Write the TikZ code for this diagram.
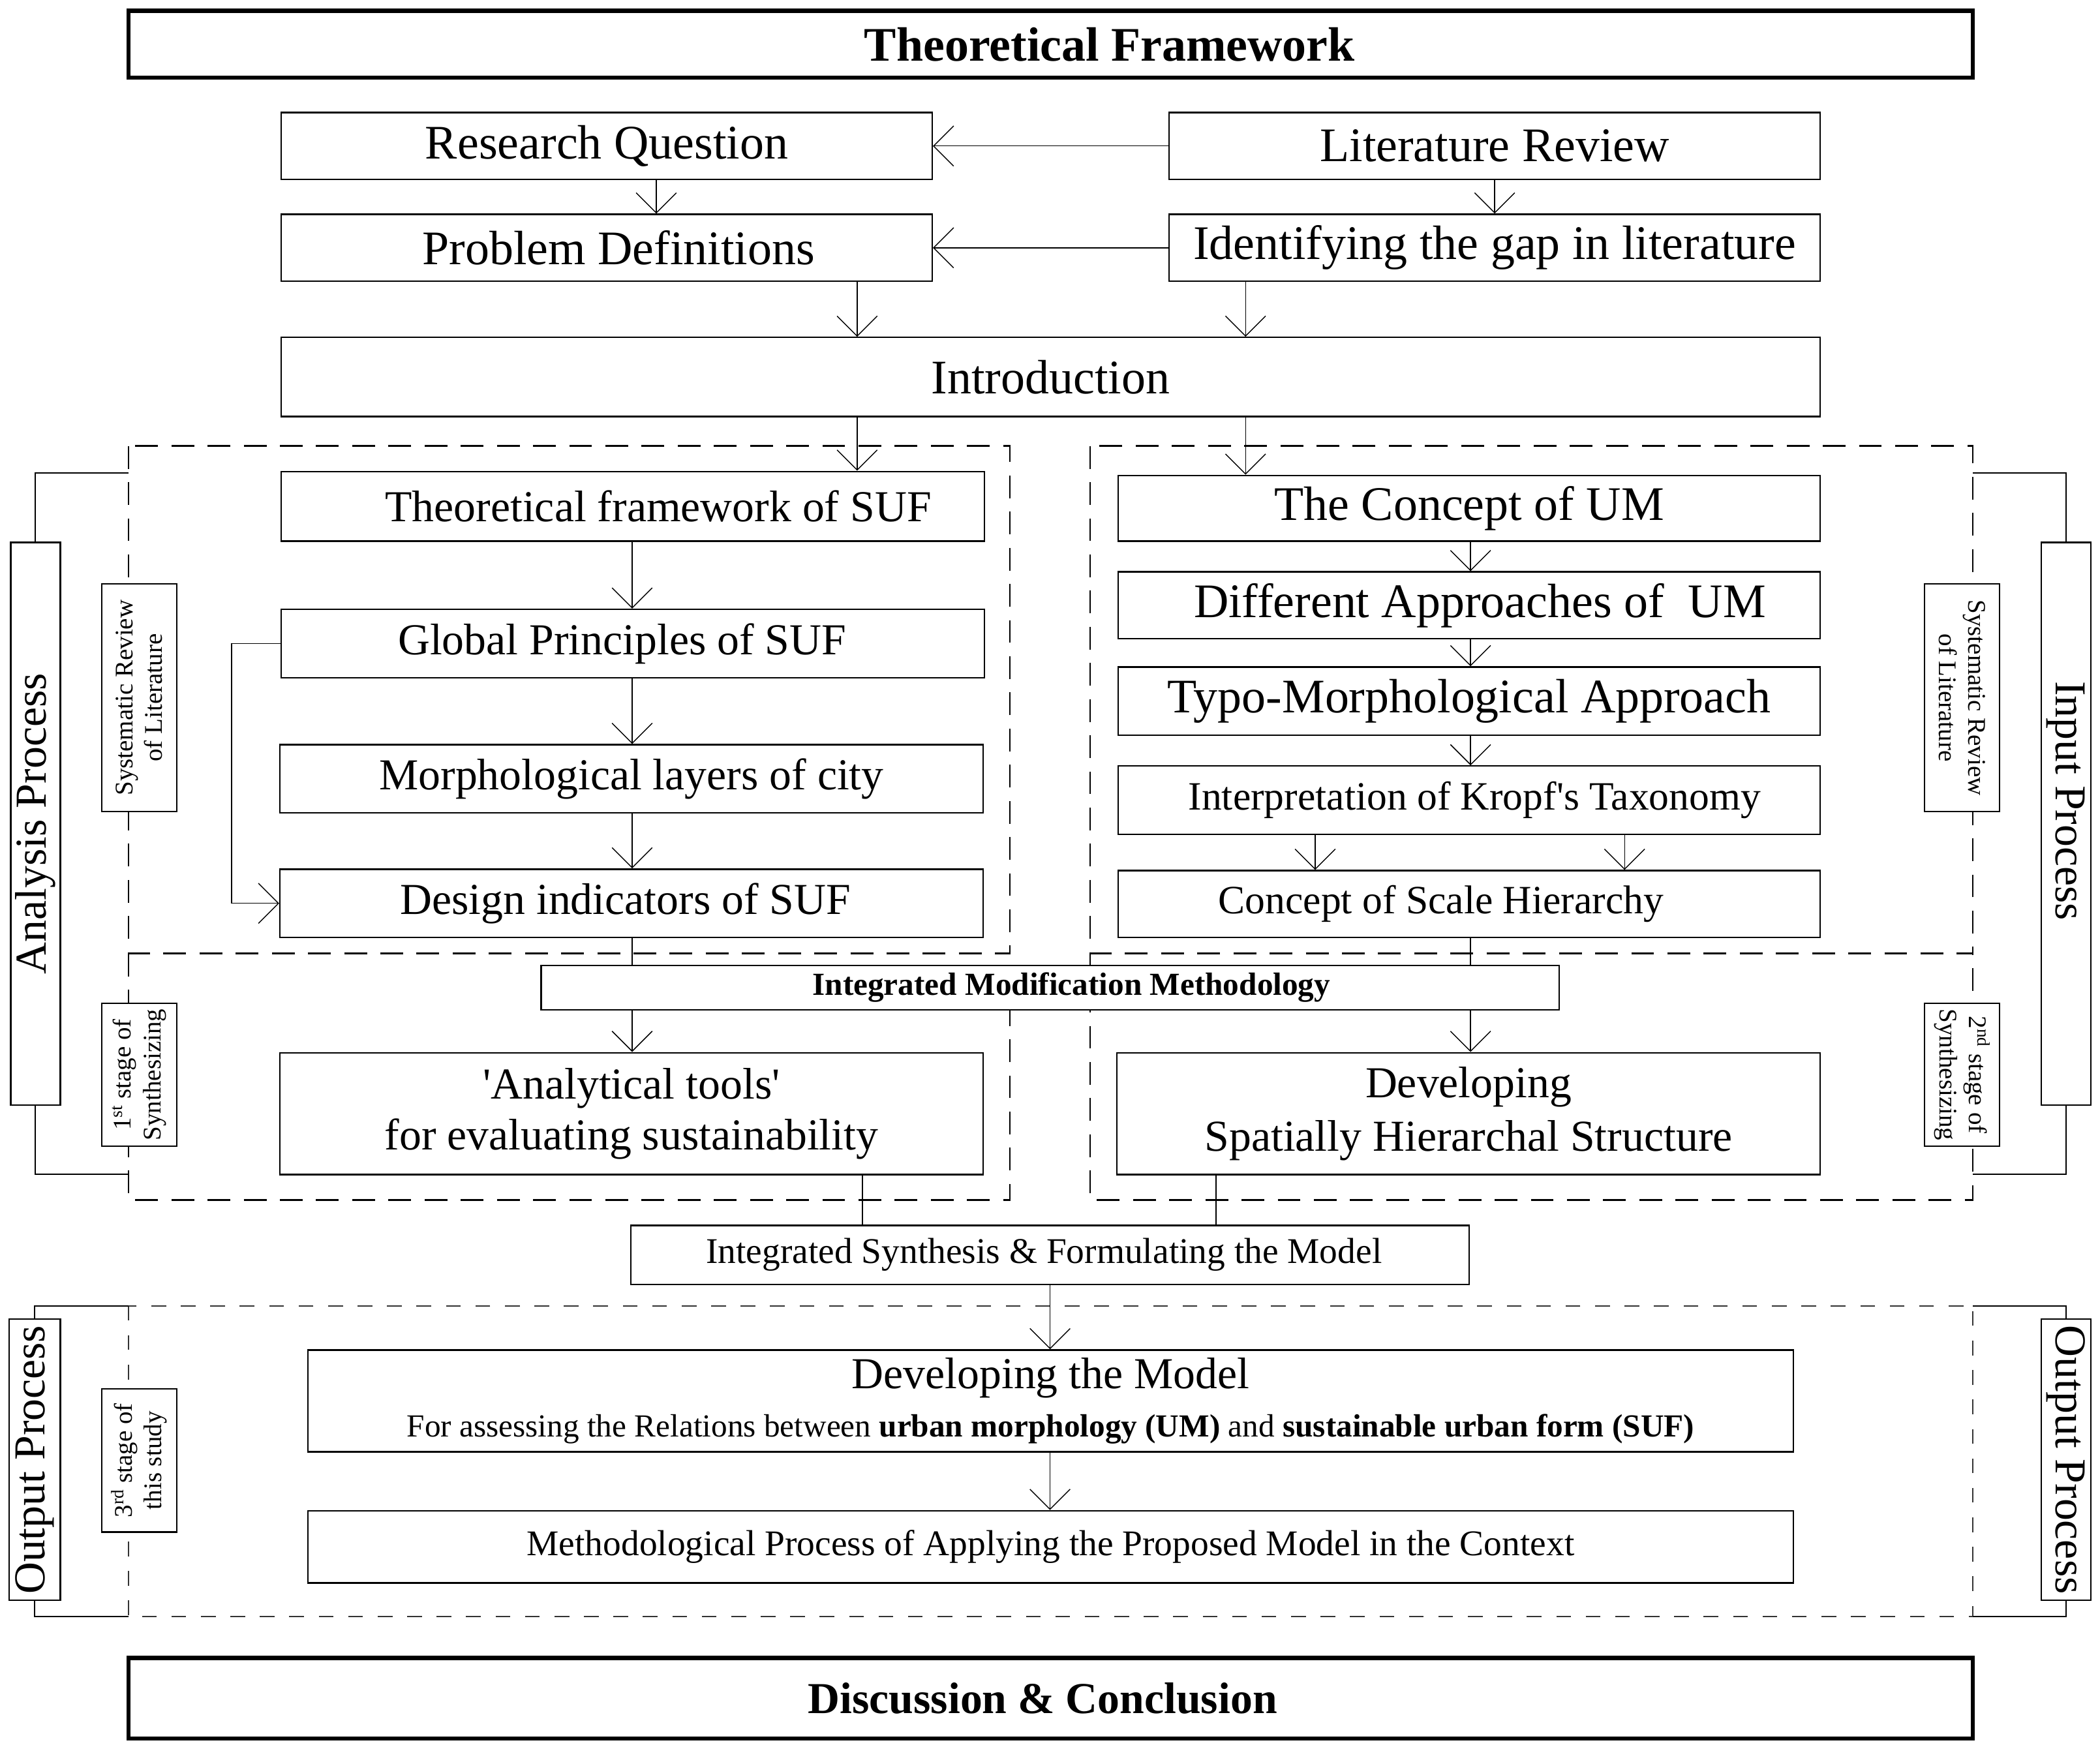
\documentclass[tikz,border=0pt]{standalone}
\usepackage{fontspec}
\setmainfont{Liberation Serif}
\usetikzlibrary{arrows.meta}
\begin{document}
\begin{tikzpicture}[x=1pt,y=-1pt,
  box/.style={draw, line width=1.1pt, fill=white, inner sep=0pt},
  thickbox/.style={draw, line width=3pt, fill=white, inner sep=0pt},
  arr/.style={line width=0.7pt, -{Straight Barb[length=15pt,width=30pt]}},
  conn/.style={line width=0.7pt},
  dregion/.style={line width=1.3pt, dash pattern=on 17pt off 10pt},
  oregion/.style={line width=0.9pt, dash pattern=on 11pt off 11pt, black!80},
  bracket/.style={line width=1pt},
  fA/.style={font=\fontsize{36}{42}\selectfont},
  fB/.style={font=\fontsize{33}{38}\selectfont},
  fC/.style={font=\fontsize{30}{35}\selectfont},
  fD/.style={font=\fontsize{27}{32}\selectfont},
  fside/.style={font=\fontsize{33}{38}\selectfont},
  fsmall/.style={font=\fontsize{19}{22}\selectfont, align=center},
]
\useasboundingbox (0,0) rectangle (1568,1304);

% dashed regions
\draw[dregion] (96,333) rectangle (754,712);
\draw[dregion] (96,712) -- (96,896) -- (754,896) -- (754,712);
\draw[dregion] (814,333) rectangle (1473,712);
\draw[dregion] (814,712) -- (814,896) -- (1473,896) -- (1473,712);
\draw[oregion] (96,975) rectangle (1473,1207);

% top boxes
\node[thickbox, minimum width=1377pt, minimum height=50pt, font=\fontsize{36}{42}\selectfont\bfseries] (tf) at (784.5,33) {\hspace*{88pt}Theoretical Framework};
\node[box, minimum width=486pt, minimum height=50pt, fA] (rq) at (453,109) {Research Question};
\node[box, minimum width=486pt, minimum height=50pt, fA] (lr) at (1116,109) {Literature Review};
\node[box, minimum width=486pt, minimum height=50pt, fA] (pd) at (453,185) {\hspace*{18pt}Problem Definitions};
\node[box, minimum width=486pt, minimum height=50pt, fA] (ig) at (1116,185) {Identifying the gap in literature};
\node[box, minimum width=1149pt, minimum height=59pt, fA] (intro) at (784.5,281.5) {Introduction};

% left column
\node[box, minimum width=525pt, minimum height=52pt, fB] (tsuf) at (472.5,378) {\hspace*{38pt}Theoretical framework of SUF};
\node[box, minimum width=525pt, minimum height=51pt, fB] (gp) at (472.5,480.5) {Global Principles of SUF\hspace*{16pt}};
\node[box, minimum width=525pt, minimum height=51pt, fB] (ml) at (471.5,581.5) {Morphological layers of city};
\node[box, minimum width=525pt, minimum height=51pt, fB] (di) at (471.5,674.5) {Design indicators of SUF\hspace*{9pt}};

% right column
\node[box, minimum width=524pt, minimum height=49pt, fA] (cum) at (1097,379.5) {The Concept of UM};
\node[box, minimum width=524pt, minimum height=50pt, fA] (da) at (1097,452) {\hspace*{16pt}Different Approaches of \ UM};
\node[box, minimum width=524pt, minimum height=51pt, fA] (tm) at (1097,523.5) {Typo-Morphological Approach};
\node[box, minimum width=524pt, minimum height=51pt, fC] (kt) at (1097,597.5) {\hspace*{8pt}Interpretation of Kropf\textquotesingle s Taxonomy};
\node[box, minimum width=524pt, minimum height=50pt, fC] (sh) at (1097,675) {\raisebox{4pt}{Concept of Scale Hierarchy}\hspace*{42pt}};

% integrated modification methodology
\node[box, minimum width=760pt, minimum height=33pt, font=\fontsize{24}{28}\selectfont\bfseries] (imm) at (784,737.5) {\hspace*{32pt}Integrated Modification Methodology};

\node[box, minimum width=525pt, minimum height=91pt, fB, align=center] (at) at (471.5,831.5) {\textquotesingle Analytical tools\textquotesingle\\for evaluating sustainability};
\node[box, minimum width=525pt, minimum height=91pt, align=center, font=\fontsize{33}{40}\selectfont] (dev) at (1096.5,831.5) {Developing\\Spatially Hierarchal Structure};

\node[box, minimum width=626pt, minimum height=44pt, fD] (is) at (784,937) {Integrated Synthesis \& Formulating the Model\hspace*{9pt}};

\node[box, minimum width=1109pt, minimum height=76pt, align=center] (dm) at (784.5,1046) {{\fontsize{33}{36}\selectfont Developing the Model}\\[11pt]{\fontsize{24}{30}\selectfont For assessing the Relations between \textbf{urban morphology (UM)} and \textbf{sustainable urban form (SUF)}}};
\node[box, minimum width=1109pt, minimum height=54pt, fD] (mp) at (784.5,1155) {Methodological Process of Applying the Proposed Model in the Context};

\node[thickbox, minimum width=1377pt, minimum height=60pt, font=\fontsize{33}{40}\selectfont\bfseries] (dc) at (784.5,1268) {Discussion \& Conclusion\hspace*{12pt}};

% side process boxes
\node[box, rotate=90, minimum width=420pt, minimum height=37pt, fside] (ap) at (26.5,615) {Analysis Process};
\node[box, rotate=-90, minimum width=420pt, minimum height=37pt, fside] (ip) at (1542.5,615) {Input Process\hspace*{34pt}};
\node[box, rotate=90, minimum width=210pt, minimum height=38pt, fside] (opl) at (26,1090) {Output Process};
\node[box, rotate=-90, minimum width=210pt, minimum height=37pt, fside] (opr) at (1542.5,1090) {Output Process};

% small stage boxes
\node[box, rotate=90, minimum width=170pt, minimum height=56pt, fsmall] (srl) at (104,521) {Systematic Review\\of Literature};
\node[box, rotate=90, minimum width=107pt, minimum height=56pt, fsmall] (st1) at (104,802.5) {1\textsuperscript{st} stage of\\Synthesizing};
\node[box, rotate=90, minimum width=107pt, minimum height=56pt, fsmall] (st3) at (104,1090.5) {3\textsuperscript{rd} stage of\\this study};
\node[box, rotate=-90, minimum width=170pt, minimum height=56pt, fsmall] (srr) at (1465,521) {Systematic Review\\of Literature};
\node[box, rotate=-90, minimum width=107pt, minimum height=56pt, fsmall] (st2) at (1465,802.5) {2\textsuperscript{nd} stage of\\Synthesizing};

% brackets
\coordinate (blt) at (96,353);
\coordinate (blb) at (96,877);
\coordinate (brt) at (1473,353);
\coordinate (brb) at (1473,877);
\coordinate (olt) at (96,975);
\coordinate (olb) at (96,1207);
\coordinate (ort) at (1473,975);
\coordinate (orb) at (1473,1207);
\draw[bracket] (blt) -| (ap);
\draw[bracket] (blb) -| (ap);
\draw[bracket] (brt) -| (ip);
\draw[bracket] (brb) -| (ip);
\draw[bracket] (olt) -| (opl);
\draw[bracket] (olb) -| (opl);
\draw[bracket] (ort) -| (opr);
\draw[bracket] (orb) -| (opr);

% x positions for connectors
\coordinate (x490) at (490,0);
\coordinate (x640) at (640,0);
\coordinate (x930) at (930,0);
\coordinate (x472) at (472,0);
\coordinate (x1098) at (1098,0);
\coordinate (x1116) at (1116,0);
\coordinate (x982) at (982,0);
\coordinate (x1213) at (1213,0);
\coordinate (x644) at (644,0);
\coordinate (x908) at (908,0);
\coordinate (x784) at (784,0);
\coordinate (fbx) at (173,0);

% connectors
\draw[arr] (lr) -- (rq);
\draw[arr] (ig) -- (pd);
\draw[arr] (rq.south -| x490) -- (pd.north -| x490);
\draw[arr] (lr.south -| x1116) -- (ig.north -| x1116);
\draw[arr] (pd.south -| x640) -- (intro.north -| x640);
\draw[arr] (ig.south -| x930) -- (intro.north -| x930);
\draw[arr] (intro.south -| x640) -- (tsuf.north -| x640);
\draw[arr] (intro.south -| x930) -- (cum.north -| x930);

\draw[arr] (tsuf.south -| x472) -- (gp.north -| x472);
\draw[arr] (gp.south -| x472) -- (ml.north -| x472);
\draw[arr] (ml.south -| x472) -- (di.north -| x472);
\draw[conn] (di.south -| x472) -- (imm.north -| x472);
\draw[arr] (imm.south -| x472) -- (at.north -| x472);
\draw[arr] (gp.west) -- (gp.west -| fbx) |- (di.west);

\draw[arr] (cum.south -| x1098) -- (da.north -| x1098);
\draw[arr] (da.south -| x1098) -- (tm.north -| x1098);
\draw[arr] (tm.south -| x1098) -- (kt.north -| x1098);
\draw[arr] (kt.south -| x982) -- (sh.north -| x982);
\draw[arr] (kt.south -| x1213) -- (sh.north -| x1213);
\draw[conn] (sh.south -| x1098) -- (imm.north -| x1098);
\draw[arr] (imm.south -| x1098) -- (dev.north -| x1098);

\draw[conn] (at.south -| x644) -- (is.north -| x644);
\draw[conn] (dev.south -| x908) -- (is.north -| x908);
\draw[arr] (is.south -| x784) -- (dm.north -| x784);
\draw[arr] (dm.south -| x784) -- (mp.north -| x784);
\end{tikzpicture}
\end{document}
